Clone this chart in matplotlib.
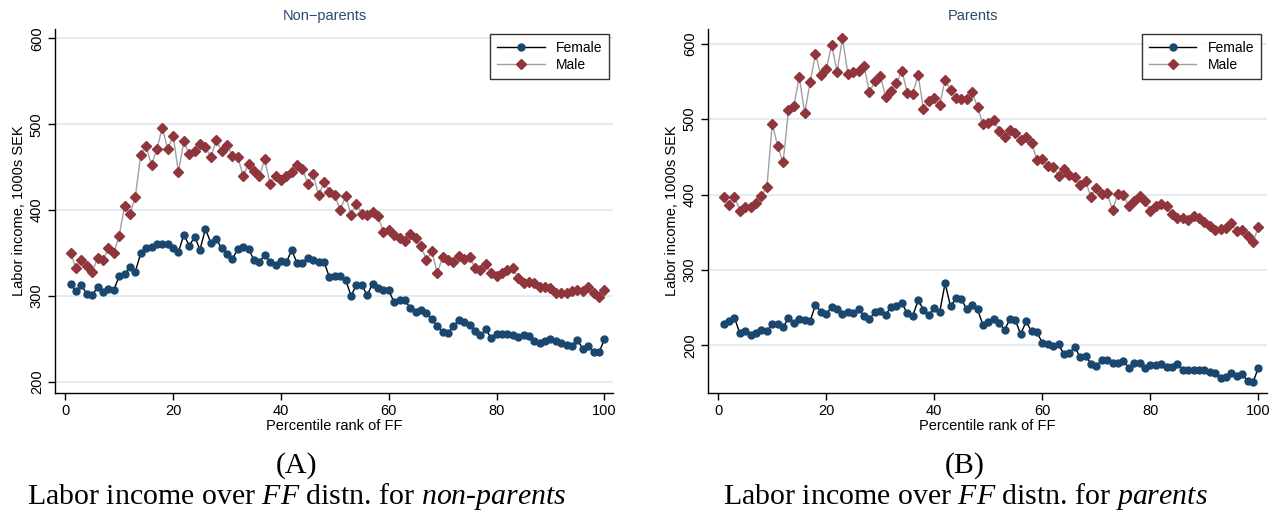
import numpy as np
import matplotlib
matplotlib.use('Agg')
import matplotlib.pyplot as plt

plt.rcParams['font.family'] = ['Liberation Sans', 'DejaVu Sans']
plt.rcParams['mathtext.fontset'] = 'custom'
plt.rcParams['mathtext.rm'] = 'Liberation Serif'
plt.rcParams['mathtext.it'] = 'Liberation Serif:italic'

pct = np.arange(1, 101)

# non-parents
np_female = [313.6, 305.8, 312.8, 302.3, 301.2, 310.1, 304.3, 308.2, 306.6, 323.3,
             325.3, 333.5, 328.4, 349.8, 355.6, 357.2, 360.3, 361.1, 361.1, 356.4,
             351.0, 371.6, 358.4, 368.9, 354.0, 378.2, 361.9, 366.5, 355.6, 349.0,
             343.2, 354.5, 356.8, 354.5, 342.4, 340.0, 347.5, 340.0, 336.6, 341.2,
             339.3, 353.3, 338.5, 338.5, 344.4, 341.6, 340.0, 339.7, 322.0, 323.7,
             323.7, 319.1, 300.4, 312.5, 312.8, 300.8, 314.4, 309.3, 306.6, 306.6,
             292.6, 294.9, 294.9, 286.0, 281.3, 283.3, 279.8, 272.8, 265.0, 258.0,
             256.8, 265.0, 271.6, 269.6, 266.0, 258.8, 254.1, 261.1, 251.0, 255.6,
             256.0, 255.3, 254.9, 251.8, 254.1, 252.9, 247.1, 244.7, 247.1, 249.8,
             247.1, 245.5, 243.2, 241.2, 249.0, 238.5, 241.2, 234.2, 234.2, 249.4]
np_male = [350.2, 332.3, 342.0, 335.4, 327.6, 344.7, 341.6, 356.0, 350.2, 370.4,
           404.3, 395.7, 415.2, 464.6, 474.3, 452.9, 471.2, 496.1, 471.2, 486.8,
           444.4, 480.2, 465.0, 468.9, 476.7, 473.9, 461.9, 481.3, 469.3, 475.5,
           463.4, 461.9, 439.7, 453.7, 445.1, 439.7, 459.1, 430.4, 439.3, 435.4,
           440.1, 444.7, 452.9, 448.2, 430.7, 441.6, 417.1, 432.3, 421.4, 417.5,
           400.0, 416.3, 394.9, 407.4, 395.7, 394.9, 397.3, 393.4, 374.7, 376.7,
           370.8, 367.7, 364.6, 372.4, 367.7, 358.0, 342.0, 352.1, 326.5, 345.1,
           341.6, 339.3, 346.7, 342.8, 346.0, 332.7, 329.9, 337.7, 326.5, 323.0,
           326.5, 330.7, 333.1, 321.0, 315.2, 316.7, 314.8, 310.1, 310.9, 308.9,
           303.1, 303.9, 303.5, 305.4, 306.6, 305.4, 310.1, 303.5, 298.4, 307.4]

# parents
p_female = [227.9, 232.4, 236.8, 216.0, 219.5, 213.3, 216.4, 220.8, 218.6, 227.9,
            227.9, 223.9, 236.4, 229.3, 235.5, 233.7, 231.9, 254.1, 244.8, 242.1,
            250.6, 247.9, 241.2, 244.8, 243.0, 248.8, 239.0, 235.5, 243.9, 245.7,
            240.8, 251.4, 252.3, 255.9, 242.6, 239.0, 259.9, 247.5, 240.4, 249.2,
            244.3, 282.5, 251.9, 262.5, 261.6, 247.9, 253.7, 247.9, 227.5, 231.0,
            235.5, 229.7, 220.8, 234.6, 233.3, 215.1, 231.9, 218.6, 217.7, 203.5,
            202.2, 198.7, 201.3, 188.3, 190.2, 197.8, 184.9, 186.3, 176.1, 173.4,
            180.1, 180.1, 177.0, 177.0, 180.0, 170.5, 176.5, 176.7, 170.3, 174.3,
            174.7, 176.1, 171.2, 171.2, 176.1, 168.1, 167.2, 167.2, 167.2, 167.2,
            165.0, 163.6, 157.4, 158.3, 164.1, 160.1, 161.9, 153.0, 151.2, 170.3]
p_male = [396.5, 386.7, 397.3, 378.7, 383.1, 383.6, 388.5, 398.2, 409.8, 494.0,
          464.3, 442.6, 511.8, 517.5, 556.1, 508.2, 548.6, 586.7, 557.9, 566.3,
          598.7, 562.7, 607.5, 560.0, 561.9, 564.1, 569.8, 535.7, 550.3, 557.4,
          529.9, 537.9, 547.7, 564.1, 535.3, 533.5, 558.8, 513.1, 524.2, 527.7,
          519.3, 551.7, 538.8, 527.7, 526.4, 527.3, 535.7, 516.2, 493.6, 495.5,
          499.3, 484.7, 476.7, 485.6, 482.0, 471.8, 475.8, 468.7, 446.1, 447.0,
          437.3, 436.8, 424.4, 434.1, 426.2, 423.1, 412.9, 417.7, 397.3, 409.3,
          400.4, 401.8, 379.6, 401.0, 399.0, 384.9, 391.6, 397.8, 391.6, 378.7,
          384.5, 387.1, 384.5, 374.3, 369.0, 369.0, 365.9, 371.2, 369.0, 363.2,
          358.3, 353.0, 354.3, 355.2, 361.9, 351.2, 353.4, 344.6, 336.6, 357.0]

navy = '#1a476f'
maroon = '#90353b'
W, H = 1280, 519

fig = plt.figure(figsize=(12.8, 5.19), dpi=100)


def panel(rect, female, male, ylim, legend_x):
    ax = fig.add_axes(rect)
    ax.plot(pct, female, color='black', lw=1, marker='o', ms=5, mfc=navy, mec=navy,
            label='Female', zorder=3)
    ax.plot(pct, male, color='#a0a0a0', lw=1, marker='D', ms=4.8, mfc=maroon, mec=maroon,
            label='Male', zorder=3)
    ax.set_xlim(-1.9, 101.6)
    ax.set_ylim(*ylim)
    ax.set_xticks([0, 20, 40, 60, 80, 100])
    ax.set_yticks([200, 300, 400, 500, 600])
    ax.yaxis.grid(True, color='#e3ecef', lw=1.5, zorder=0)
    ax.set_axisbelow(True)
    for s in ['top', 'right']:
        ax.spines[s].set_visible(False)
    for s in ['left', 'bottom']:
        ax.spines[s].set_linewidth(1)
    ax.tick_params(labelsize=10.5, length=5, width=1, pad=3)
    for lab in ax.get_yticklabels():
        lab.set_rotation(90)
        lab.set_va('center')
    ax.set_xlabel('Percentile rank of FF', fontsize=10.5, labelpad=1)
    ax.set_ylabel('Labor income, 1000s SEK', fontsize=10.5, labelpad=3)
    leg = ax.legend(loc='upper right', bbox_to_anchor=(legend_x, 0.986), borderaxespad=0,
                    fontsize=10, frameon=True, fancybox=False, handlelength=3.4,
                    handletextpad=0.8, borderpad=0.5, labelspacing=0.2)
    leg.get_frame().set_edgecolor('black')
    leg.get_frame().set_linewidth(1)
    return ax


ax1 = panel([55 / W, 1 - 393 / H, 558 / W, 364 / H], np_female, np_male, (187, 611), 0.993)
ax2 = panel([708 / W, 1 - 393 / H, 559 / W, 364 / H], p_female, p_male, (137, 619.5), 0.989)

title_col = '#2b4a70'
fig.text(325 / W, 1 - 16 / H, 'Non\u2212parents', ha='center', va='center', fontsize=10.5, color=title_col)
fig.text(973 / W, 1 - 16 / H, 'Parents', ha='center', va='center', fontsize=10.5, color=title_col)

cap = dict(ha='center', va='center', fontsize=21.5, family='Liberation Serif')
fig.text(297 / W, 1 - 466 / H, '(A)', **cap)
fig.text(297 / W, 1 - 497 / H,
         r'Labor income over $\mathit{FF}$ distn. for $\mathit{non}$-$\mathit{parents}$', **cap)
fig.text(965 / W, 1 - 466 / H, '(B)', **cap)
fig.text(965 / W, 1 - 497 / H,
         r'Labor income over $\mathit{FF}$ distn. for $\mathit{parents}$', **cap)

fig.savefig('out.png', dpi=100)
